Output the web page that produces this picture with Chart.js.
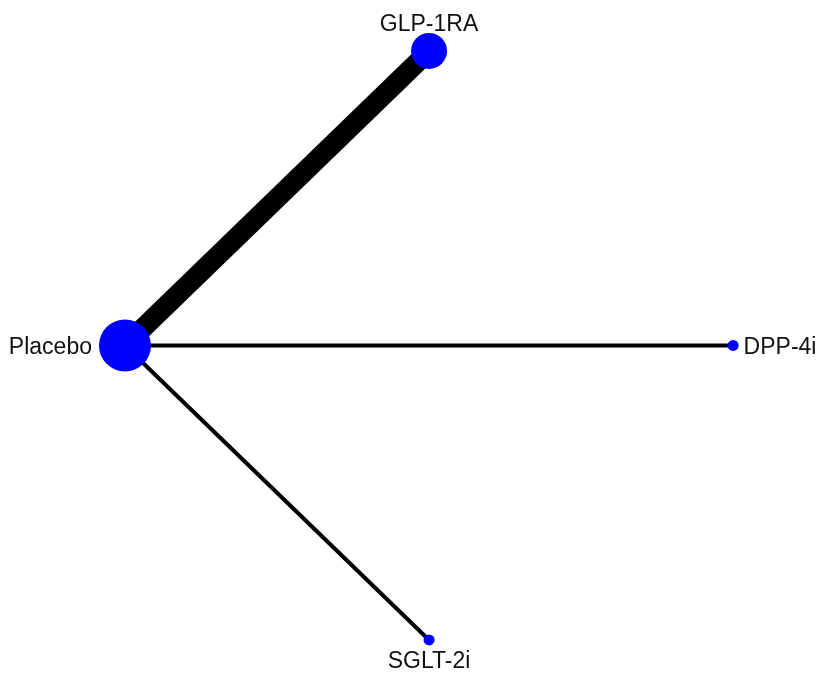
<!DOCTYPE html>
<html>
<head>
<meta charset="utf-8">
<script src="https://cdn.jsdelivr.net/npm/chart.js@4"></script>
<style>
  body { margin: 0; background: #ffffff; }
  #wrap { width: 821px; height: 680px; }
</style>
</head>
<body>
<div id="wrap"><canvas id="netChart" width="821" height="680"></canvas></div>
<script>
// Nodos de la red (posicion en un circulo unitario)
const treatments = ["Placebo", "GLP-1RA", "DPP-4i", "SGLT-2i"];
const nodeX = [-1, 0, 1, 0];
const nodeY = [0, 1, 0, -1];
const nodeSize = [26, 18, 5.5, 5.5];  // radio del nodo
const labelSide = ["left", "top", "right", "bottom"];

// Comparaciones directas (aristas)
const edgeFrom = [0, 0, 0];
const edgeTo = [1, 2, 3];
const edgeStudies = [5, 1, 1];

const nodeColor = "#0000ff";
const edgeColor = "#000000";

// Datasets de aristas: una linea por comparacion
const edgeDatasets = edgeFrom.map((from, i) => ({
    data: [
        { x: nodeX[from], y: nodeY[from] },
        { x: nodeX[edgeTo[i]], y: nodeY[edgeTo[i]] },
    ],
    showLine: true,
    borderColor: edgeColor,
    borderWidth: edgeStudies[i] * 4,
    borderCapStyle: "butt",
    pointRadius: 0,
    pointHoverRadius: 0,
    order: 1,
}));

// Plugin para escribir el nombre de cada tratamiento
const nodeLabels = {
    id: "nodeLabels",
    afterDatasetsDraw(chart) {
        const { ctx, scales } = chart;
        ctx.save();
        ctx.font = '23px "Liberation Sans", Arial, sans-serif';
        ctx.fillStyle = "#111111";
        treatments.forEach((name, i) => {
            const px = scales.x.getPixelForValue(nodeX[i]);
            const py = scales.y.getPixelForValue(nodeY[i]);
            const r = nodeSize[i];
            if (labelSide[i] === "left") {
                ctx.textAlign = "right";
                ctx.textBaseline = "middle";
                ctx.fillText(name, px - r - 7, py + 2);
            } else if (labelSide[i] === "right") {
                ctx.textAlign = "left";
                ctx.textBaseline = "middle";
                ctx.fillText(name, px + r + 5, py + 2);
            } else if (labelSide[i] === "top") {
                ctx.textAlign = "center";
                ctx.textBaseline = "alphabetic";
                ctx.fillText(name, px, py - r - 2);
            } else {
                ctx.textAlign = "center";
                ctx.textBaseline = "alphabetic";
                ctx.fillText(name, px, py + r + 23);
            }
        });
        ctx.restore();
    },
};

new Chart(document.getElementById("netChart"), {
    type: "scatter",
    data: {
        datasets: [
            {
                data: treatments.map((t, i) => ({ x: nodeX[i], y: nodeY[i] })),
                pointRadius: nodeSize,
                pointHoverRadius: nodeSize,
                backgroundColor: nodeColor,
                borderColor: nodeColor,
                borderWidth: 0,
                showLine: false,
                order: 0,
            },
            ...edgeDatasets,
        ],
    },
    options: {
        responsive: false,
        animation: false,
        events: [],
        layout: { padding: 0, autoPadding: false },
        scales: {
            x: { type: "linear", display: false, min: -1.411, max: 1.289 },
            y: { type: "linear", display: false, min: -1.136, max: 1.173 },
        },
        plugins: {
            legend: { display: false },
            tooltip: { enabled: false },
        },
    },
    plugins: [nodeLabels],
});
</script>
</body>
</html>
